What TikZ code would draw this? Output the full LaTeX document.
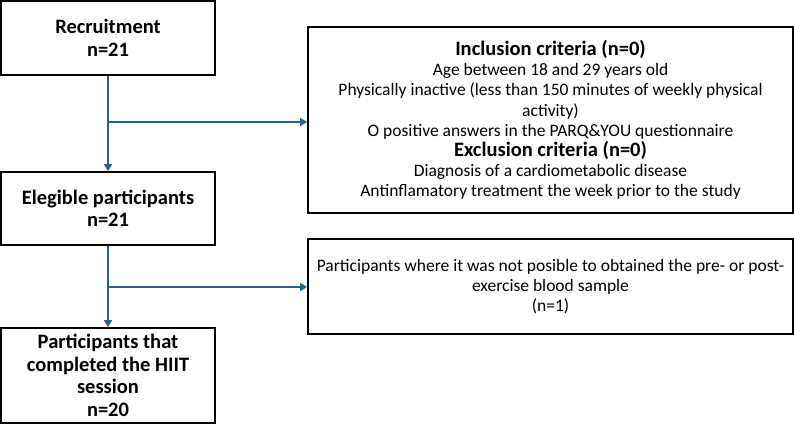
\documentclass[tikz,border=0pt]{standalone}
\usepackage{fontspec}
\setmainfont{Carlito}
\usetikzlibrary{arrows.meta}
\definecolor{arrowblue}{HTML}{1F6391}
\tikzset{
  box/.style={draw=black, line width=1.8pt, rectangle, inner sep=0pt, align=center},
  leftbox/.style={box, minimum width=214pt, font=\fontsize{20.5}{22.5}\selectfont\bfseries},
  rightbox/.style={box, minimum width=485pt, font=\fontsize{17.5}{20.2}\selectfont},
  heading/.style={},
  flow/.style={draw=arrowblue, line width=1.8pt, -{Triangle[length=7pt,width=8pt]}}
}
\newcommand{\crithead}[1]{{\fontsize{20.5}{20.2}\selectfont\bfseries #1}}
\begin{document}
\begin{tikzpicture}[x=1pt,y=-1pt]
\useasboundingbox (0,0) rectangle (794,427);
\node[leftbox, minimum height=74pt] (rec) at (108,38) {Recruitment\\n=21};
\node[leftbox, minimum height=73pt] (eli) at (108,208.5) {Elegible participants\\n=21};
\node[leftbox, minimum height=95pt] (com) at (108,375.5) {Participants that\\completed the HIIT\\session\\n=20};
\node[rightbox, minimum height=186pt] (crit) at (550.5,120) {\crithead{Inclusion criteria (n=0)}\\Age between 18 and 29 years old\\Physically inactive (less than 150 minutes of weekly physical\\activity)\\O positive answers in the PARQ\&YOU questionnaire\\\crithead{Exclusion criteria (n=0)}\\Diagnosis of a cardiometabolic disease\\Antinflamatory treatment the week prior to the study};
\node[rightbox, minimum height=95pt] (lost) at (550.5,286.5) {Participants where it was not posible to obtained the pre- or post-\\exercise blood sample\\(n=1)};
\coordinate (j1) at (108,122);
\coordinate (j2) at (108,287);
\draw[flow] (rec) -- (eli);
\draw[flow] (j1) -- (j1 -| crit.west);
\draw[flow] (eli) -- (com);
\draw[flow] (j2) -- (j2 -| lost.west);
\end{tikzpicture}
\end{document}
